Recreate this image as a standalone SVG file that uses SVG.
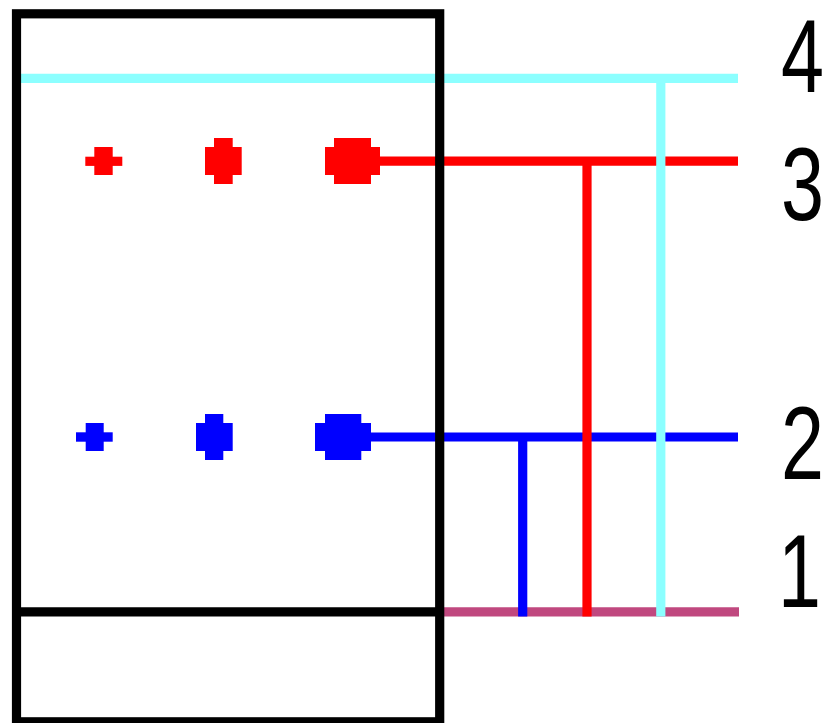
<svg xmlns="http://www.w3.org/2000/svg" width="823" height="723" viewBox="0 0 823 723">
<style>
.ln{fill:none;stroke-width:9.2;stroke-linecap:butt}
.cy{stroke:#8cffff}
.rd{stroke:#ff0000}
.bl{stroke:#0000ff}
.mg{stroke:#c0487f}
.frame{fill:none;stroke:#000;stroke-width:9.2}
.rdf{fill:#ff0000}
.blf{fill:#0000ff}
.lbl{font-family:"Liberation Sans",Arial,sans-serif;font-size:103px;fill:#000}
</style>
<rect width="823" height="723" fill="#fff"/>
<g id="connectors">
<line class="ln cy" x1="16" y1="78.3" x2="738" y2="78.3"/>
<line class="ln rd" x1="370" y1="161.2" x2="738" y2="161.2"/>
<line class="ln bl" x1="360" y1="437" x2="738" y2="437"/>
<line class="ln mg" x1="444" y1="611.8" x2="739" y2="611.8"/>
<line class="ln bl" x1="522.7" y1="437" x2="522.7" y2="616.4"/>
<line class="ln rd" x1="587" y1="161.2" x2="587" y2="616.4"/>
<line class="ln cy" x1="660.8" y1="78.3" x2="660.8" y2="616.4"/>
</g>
<g id="frame">
<rect class="frame" x="16.5" y="13.8" width="423.2" height="708"/>
<line class="frame" x1="12" y1="611.8" x2="444" y2="611.8"/>
</g>
<g id="red-small"><rect class="rdf" x="85.3" y="156.7" width="37" height="9.2"/><rect class="rdf" x="94.3" y="147" width="18.4" height="28"/></g>
<g id="red-medium"><rect class="rdf" x="205" y="147" width="36.7" height="28"/><rect class="rdf" x="214" y="138" width="18.7" height="46"/></g>
<g id="red-large"><rect class="rdf" x="325" y="147" width="55" height="28"/><rect class="rdf" x="334" y="138" width="37" height="46"/></g>
<g id="blue-small"><rect class="blf" x="76" y="432.3" width="36.7" height="9.4"/><rect class="blf" x="85.7" y="423" width="18" height="28"/></g>
<g id="blue-medium"><rect class="blf" x="196" y="423" width="36.7" height="28"/><rect class="blf" x="205" y="414" width="18.3" height="46"/></g>
<g id="blue-large"><rect class="blf" x="315" y="423" width="56" height="28"/><rect class="blf" x="325" y="414" width="36.3" height="46"/></g>
<g id="labels">
<text class="lbl" transform="translate(781,92) scale(0.75,1)">4</text>
<text class="lbl" transform="translate(781,220) scale(0.75,1)">3</text>
<text class="lbl" transform="translate(781,479) scale(0.75,1)">2</text>
<text class="lbl" transform="translate(778,607) scale(0.75,1)">1</text>
</g>
</svg>
